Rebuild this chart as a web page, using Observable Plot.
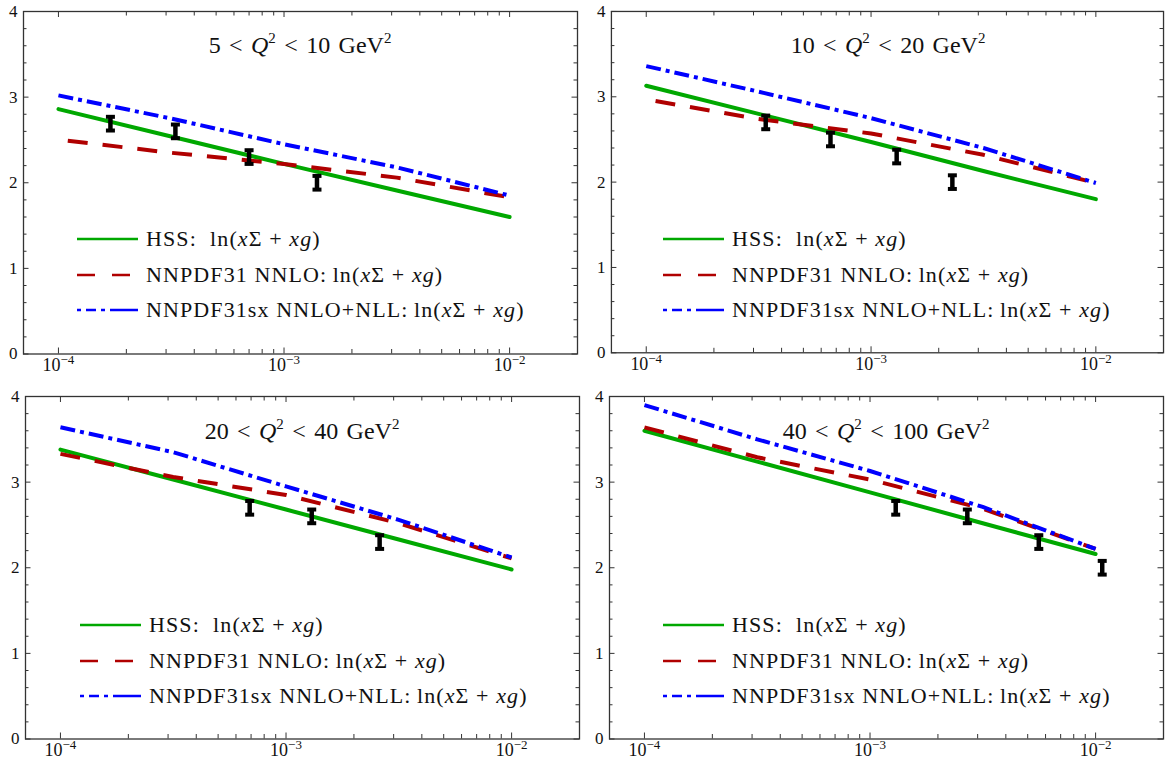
<!DOCTYPE html>
<html><head><meta charset="utf-8">
<script src="https://cdn.jsdelivr.net/npm/d3@7"></script>
<script src="https://cdn.jsdelivr.net/npm/@observablehq/plot@0.6"></script>
<style>
html,body{margin:0;padding:0;background:#fff;}
body{width:1172px;height:768px;position:relative;overflow:hidden;font-family:"Liberation Serif","DejaVu Serif",serif;color:#111;}
.panel{position:absolute;}
.title{position:absolute;font-size:24px;white-space:nowrap;transform:translate(-50%,-50%);word-spacing:0.1em;}
.title sup{font-size:15px;vertical-align:0;position:relative;top:-10px;}
.row{position:absolute;white-space:nowrap;font-size:22px;letter-spacing:1.1px;display:flex;align-items:center;transform:translateY(-50%);}
.row svg{margin-right:7px;flex:none;}
.sp{display:inline-block;width:0.3em}
</style></head><body>
<div id="root"></div>
<script>
// ---------- data ----------
const panelQ2 = [["5","10"],["10","20"],["20","40"],["40","100"]];
const seriesNames = ["HSS:", "NNPDF31 NNLO:", "NNPDF31sx NNLO+NLL:"];
const seriesColors = ["#00a800", "#b00000", "#0000ff"];

const curveX = [1e-4, 3.16e-4, 1e-3, 3.16e-3, 1e-2];
const nnpdfStartX = [1.1e-4, 1.1e-4, 1e-4, 1e-4];   // first x of the NNPDF31 curve per panel
const hss     = [[2.86, 2.54, 2.22, 1.91, 1.60],
                 [3.13, 2.80, 2.47, 2.13, 1.80],
                 [3.38, 3.03, 2.68, 2.33, 1.98],
                 [3.60, 3.24, 2.88, 2.52, 2.16]];
const nnpdf   = [[2.49, 2.35, 2.22, 2.06, 1.83],
                 [2.95, 2.74, 2.57, 2.32, 1.99],
                 [3.33, 3.06, 2.85, 2.52, 2.11],
                 [3.64, 3.29, 3.03, 2.69, 2.22]];
const nnpdfsx = [[3.02, 2.75, 2.45, 2.18, 1.85],
                 [3.36, 3.06, 2.75, 2.40, 1.99],
                 [3.64, 3.35, 2.95, 2.56, 2.12],
                 [3.90, 3.50, 3.13, 2.71, 2.22]];

const dataX = [[1.7e-4, 3.3e-4, 7.0e-4, 1.4e-3],
               [3.4e-4, 6.6e-4, 1.3e-3, 2.3e-3],
               [6.9e-4, 1.3e-3, 2.6e-3],
               [1.3e-3, 2.7e-3, 5.6e-3, 1.07e-2]];
const dataY = [[2.69, 2.60, 2.30, 2.00],
               [2.70, 2.50, 2.30, 2.00],
               [2.70, 2.60, 2.30],
               [2.70, 2.60, 2.30, 2.00]];
const dataErr = [[0.08, 0.08, 0.08, 0.08],
                 [0.08, 0.08, 0.08, 0.08],
                 [0.08, 0.08, 0.08],
                 [0.08, 0.08, 0.08, 0.08]];

const xMajor = [1e-4, 1e-3, 1e-2];
const xMajorLabels = [["10", "−4"], ["10", "−3"], ["10", "−2"]];
const xMinor = [2e-4,3e-4,4e-4,5e-4,6e-4,7e-4,8e-4,9e-4,2e-3,3e-3,4e-3,5e-3,6e-3,7e-3,8e-3,9e-3];
const yMajor = [0, 1, 2, 3, 4];
const yMajorLabels = ["0", "1", "2", "3", "4"];
const yMinor = [0.2,0.4,0.6,0.8,1.2,1.4,1.6,1.8,2.2,2.4,2.6,2.8,3.2,3.4,3.6,3.8];

// ---------- layout ----------
const W = 586, H = 388, mL = 23, mR = 9, mT = 11, mB = 34.5;
const iw = W - mL - mR, ih = H - mT - mB;
const panelPos = [[0, 0], [588, 0], [2, 385], [586, 385]];
const titlePos = [[300, 45], [888, 45], [302, 431], [886, 431]];
const legendPos = [[77, 239.3], [663, 239.3], [80, 625], [663, 625]];
const legendGap = 35.5;

const capSymbol = {draw(ctx) { ctx.rect(-4.5, -2, 9, 4); }};
const root = document.getElementById("root");

for (let p = 0; p < 4; p++) {
  const green = curveX.map((x, i) => ({x, y: hss[p][i]}));
  const red = curveX.map((x, i) => ({x: i === 0 ? nnpdfStartX[p] : x, y: nnpdf[p][i]}));
  const blue = curveX.map((x, i) => ({x, y: nnpdfsx[p][i]}));
  const pts = dataX[p].map((x, i) => ({x, y: dataY[p][i], lo: dataY[p][i] - dataErr[p][i], hi: dataY[p][i] + dataErr[p][i]}));
  const tk = {stroke: "#333", strokeWidth: 1};
  const chart = Plot.plot({
    width: W, height: H,
    marginLeft: mL, marginRight: mR, marginTop: mT, marginBottom: mB,
    style: {fontFamily: "Liberation Serif, serif", fontSize: "16px", background: "transparent", overflow: "visible", color: "#111"},
    x: {type: "log", domain: [7e-5, 2e-2], axis: null},
    y: {domain: [0, 4], axis: null},
    marks: [
      Plot.line(green, {x: "x", y: "y", stroke: seriesColors[0], strokeWidth: 4}),
      Plot.line(red, {x: "x", y: "y", stroke: seriesColors[1], strokeWidth: 4, strokeDasharray: "20,15", strokeLinecap: "butt"}),
      Plot.line(blue, {x: "x", y: "y", stroke: seriesColors[2], strokeWidth: 4, strokeDasharray: "15,5,4,5", strokeLinecap: "butt"}),
      Plot.ruleX(pts, {x: "x", y1: "lo", y2: "hi", stroke: "black", strokeWidth: 4.5}),
      Plot.dot(pts, {x: "x", y: "lo", symbol: capSymbol, r: 3, fill: "black", stroke: null}),
      Plot.dot(pts, {x: "x", y: "hi", symbol: capSymbol, r: 3, fill: "black", stroke: null}),
      Plot.tickX(xMajor, {x: d => d, insetTop: ih - 6, ...tk}),
      Plot.tickX(xMinor, {x: d => d, insetTop: ih - 4.5, ...tk}),
      Plot.tickX(xMajor, {x: d => d, insetBottom: ih - 6, ...tk}),
      Plot.tickX(xMinor, {x: d => d, insetBottom: ih - 4.5, ...tk}),
      Plot.tickY(yMajor, {y: d => d, insetRight: iw - 5.5, ...tk}),
      Plot.tickY(yMinor, {y: d => d, insetRight: iw - 3.5, ...tk}),
      Plot.tickY(yMajor, {y: d => d, insetLeft: iw - 5.5, ...tk}),
      Plot.tickY(yMinor, {y: d => d, insetLeft: iw - 3.5, ...tk}),
      Plot.text(xMajor, {x: d => d, text: (d, i) => "xlab" + i, frameAnchor: "bottom", dy: 17, fontSize: 18, fill: "#111"}),
      Plot.text(yMajor, {y: d => d, text: (d, i) => yMajorLabels[i], frameAnchor: "left", dx: -6, textAnchor: "end", fontSize: 17, fill: "#111"}),
      Plot.frame({stroke: "#333", strokeWidth: 1.3})
    ]
  });
  // render x tick labels as 10 with a raised exponent
  chart.querySelectorAll("text").forEach(el => {
    const m = /^xlab(\d)$/.exec(el.textContent);
    if (!m) return;
    const [base, exp] = xMajorLabels[+m[1]];
    el.textContent = "";
    const ns = "http://www.w3.org/2000/svg";
    const t1 = document.createElementNS(ns, "tspan"); t1.textContent = base;
    const t2 = document.createElementNS(ns, "tspan"); t2.textContent = exp;
    t2.setAttribute("dy", "-7"); t2.setAttribute("font-size", "13");
    el.appendChild(t1); el.appendChild(t2);
  });
  const div = document.createElement("div");
  div.className = "panel";
  div.style.left = panelPos[p][0] + "px";
  div.style.top = panelPos[p][1] + "px";
  div.appendChild(chart);
  root.appendChild(div);

  const t = document.createElement("div");
  t.className = "title";
  t.style.left = titlePos[p][0] + "px";
  t.style.top = titlePos[p][1] + "px";
  t.innerHTML = `${panelQ2[p][0]} &lt; <i>Q</i><sup>2</sup> &lt; ${panelQ2[p][1]} GeV<sup>2</sup>`;
  root.appendChild(t);

  const dashes = ["", "18,17", "4,5,10,5,4,5,28"];
  seriesNames.forEach((name, s) => {
    const r = document.createElement("div");
    r.className = "row";
    r.style.left = legendPos[p][0] + "px";
    r.style.top = (legendPos[p][1] + s * legendGap) + "px";
    const gap = s === 0 ? "&nbsp;&nbsp;" : "&thinsp;";
    r.innerHTML = `<svg width="62" height="10"><line x1="0" y1="5" x2="61" y2="5" stroke="${seriesColors[s]}" stroke-width="2.6" ${dashes[s] ? `stroke-dasharray="${dashes[s]}"` : ""}/></svg><span>${name}${gap}ln(<i>x</i>Σ<span class="sp"></span>+<span class="sp"></span><i>xg</i>)</span>`;
    root.appendChild(r);
  });
}
</script>
</body></html>
